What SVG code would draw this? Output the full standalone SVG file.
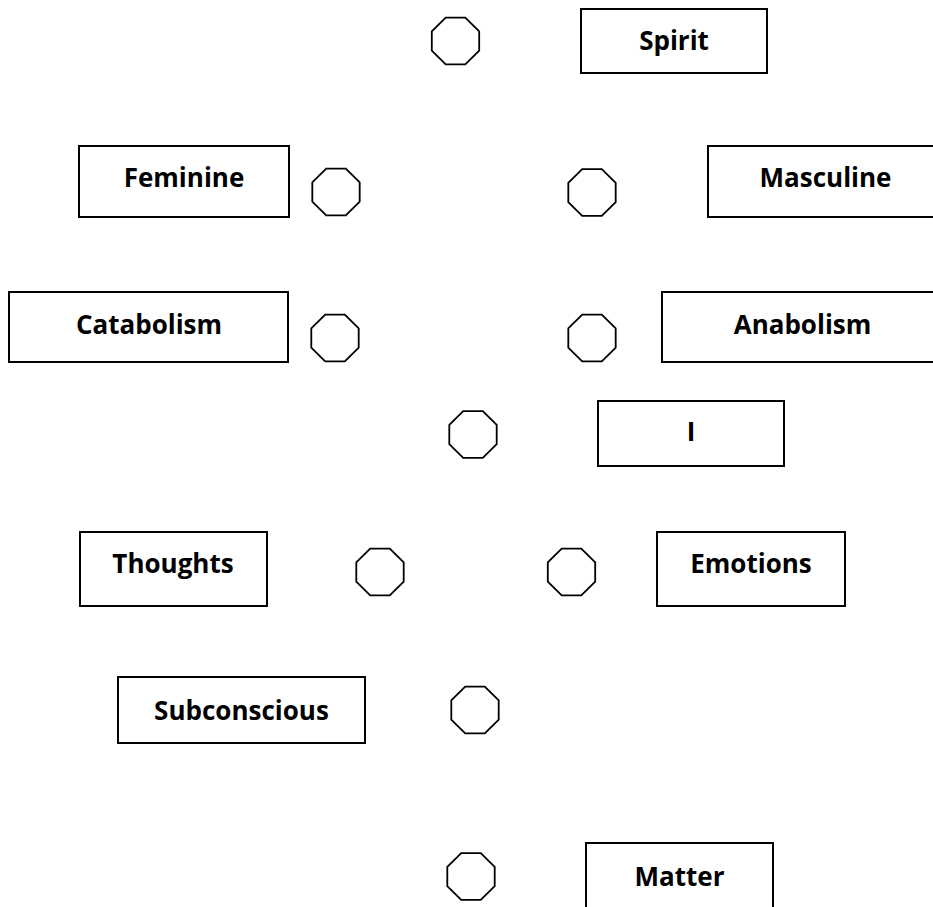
<svg xmlns="http://www.w3.org/2000/svg" xmlns:xlink="http://www.w3.org/1999/xlink" width="933" height="907" viewBox="0 0 933 907">
<style>
.box{fill:#fff;stroke:#000;stroke-width:2}
.oct{fill:#fff;stroke:#000;stroke-width:1.8;stroke-linejoin:miter}
.lbl{font-family:"Open Sans","DejaVu Sans",sans-serif;font-weight:bold;font-size:26px;fill:#000;text-anchor:middle}
</style>
<defs>
<polygon id="octa" points="-9.8,-23.3 9.8,-23.3 23.7,-9.6 23.7,9.6 9.8,23.3 -9.8,23.3 -23.7,9.6 -23.7,-9.6"/>
</defs>
<rect width="933" height="907" fill="#fff"/>
<g id="connectors"/>
<g id="spirit"><rect class="box" x="581" y="9" width="186" height="64"/><text class="lbl" x="674" y="50">Spirit</text></g>
<g id="feminine"><rect class="box" x="79" y="146" width="210" height="71"/><text class="lbl" x="184" y="186.5">Feminine</text></g>
<g id="masculine"><rect class="box" x="708" y="146" width="236" height="71"/><text class="lbl" x="825.5" y="186.5">Masculine</text></g>
<g id="catabolism"><rect class="box" x="9" y="292" width="279" height="70"/><text class="lbl" x="149" y="333.5">Catabolism</text></g>
<g id="anabolism"><rect class="box" x="662" y="292" width="282" height="70"/><text class="lbl" x="802.5" y="333.5">Anabolism</text></g>
<g id="i"><rect class="box" x="598" y="401" width="186" height="65"/><text class="lbl" x="691" y="441">I</text></g>
<g id="thoughts"><rect class="box" x="80" y="532" width="187" height="74"/><text class="lbl" x="173" y="573">Thoughts</text></g>
<g id="emotions"><rect class="box" x="657" y="532" width="188" height="74"/><text class="lbl" x="751" y="573">Emotions</text></g>
<g id="subconscious"><rect class="box" x="118" y="677" width="247" height="66"/><text class="lbl" x="241.5" y="720">Subconscious</text></g>
<g id="matter"><rect class="box" x="586" y="843" width="187" height="70"/><text class="lbl" x="679.5" y="886">Matter</text></g>
<g id="oct1"><use xlink:href="#octa" class="oct" transform="translate(455.5,41)"/></g>
<g id="oct2"><use xlink:href="#octa" class="oct" transform="translate(336,192)"/></g>
<g id="oct3"><use xlink:href="#octa" class="oct" transform="translate(592,192.5)"/></g>
<g id="oct4"><use xlink:href="#octa" class="oct" transform="translate(335,338)"/></g>
<g id="oct5"><use xlink:href="#octa" class="oct" transform="translate(592,338)"/></g>
<g id="oct6"><use xlink:href="#octa" class="oct" transform="translate(473,434.5)"/></g>
<g id="oct7"><use xlink:href="#octa" class="oct" transform="translate(380,572)"/></g>
<g id="oct8"><use xlink:href="#octa" class="oct" transform="translate(571.5,572)"/></g>
<g id="oct9"><use xlink:href="#octa" class="oct" transform="translate(475,710)"/></g>
<g id="oct10"><use xlink:href="#octa" class="oct" transform="translate(471,876.5)"/></g>
</svg>
